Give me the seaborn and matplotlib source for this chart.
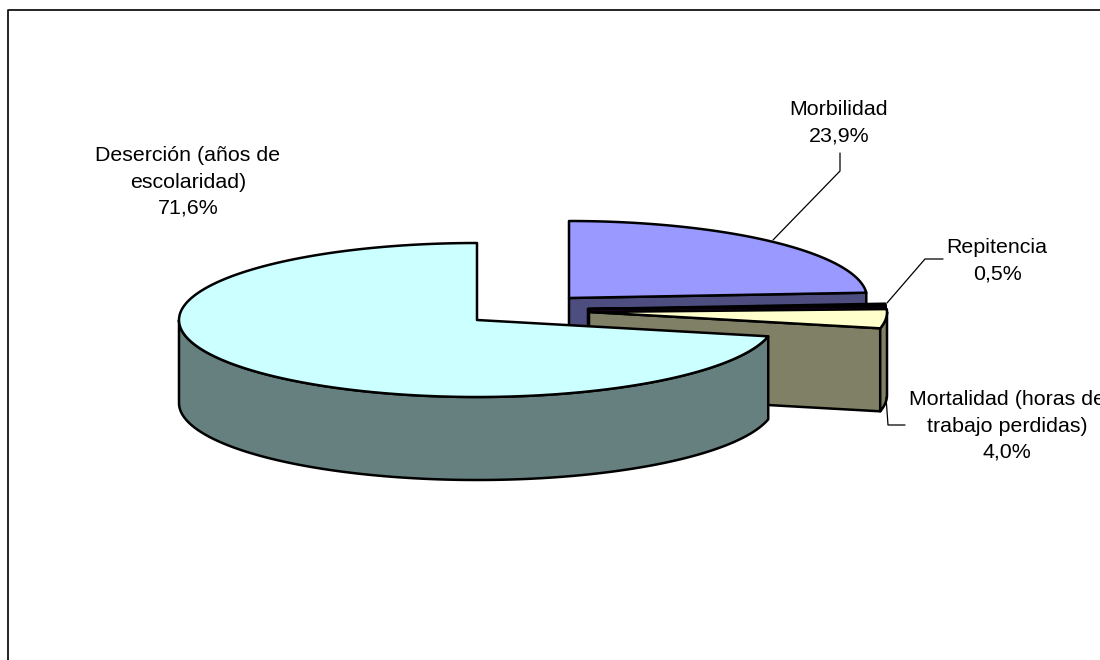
import numpy as np
import seaborn as sns
import matplotlib.pyplot as plt

# values of the chart
labels = ["Morbilidad\n23,9%", "Repitencia\n0,5%", "Mortalidad (horas de\ntrabajo perdidas)\n4,0%", "Deserción (años de\nescolaridad)\n71,6%"]
shares = [23.9, 0.5, 4.0, 71.6]
top_colors = ["#9999FF", "#660066", "#FFFFCC", "#CCFFFF"]
side_colors = ["#4D4D80", "#330033", "#808066", "#668080"]

# layout of the pie, in pixels
centers = [(569, 298), (588, 309), (589, 312), (477, 320)]
label_pos = [(839, 123), (997, 261), (1007, 426), (188, 182)]
leaders = [
    ([773, 840, 840], [240, 171, 153]),
    ([887, 925, 943], [303, 259, 259]),
    ([886, 888, 905], [397, 425, 425]),
]
rx = 298
ry = 77
depth = 83


def rim_points(cx, cy, a1, a2):
    a = np.radians(np.linspace(a1, a2, 200))
    return cx + rx * np.sin(a), cy - ry * np.cos(a)


sns.set_theme(style="white")
plt.rcParams["font.family"] = ["Liberation Sans", "DejaVu Sans"]

fig, ax = plt.subplots(figsize=(11, 6.6), dpi=100)
ax.set_position([0, 0, 1, 1])
ax.set_xlim(0, 1100)
ax.set_ylim(660, 0)
ax.axis("off")

# chart frame, runs off the picture on the right and at the bottom
ax.plot([8, 8, 1100], [660, 10, 10], color="black", lw=1.2, clip_on=False)

edges = np.cumsum([0] + shares) * 3.6
line = dict(edgecolor="black", lw=1.8, joinstyle="round")

for i in range(len(shares)):
    cx, cy = centers[i]
    a1, a2 = edges[i], edges[i + 1]

    # cut face towards the viewer
    if a2 < 180:
        ex, ey = rim_points(cx, cy, a2, a2)
        ax.fill([cx, ex[0], ex[0], cx], [cy, ey[0], ey[0] + depth, cy + depth],
                facecolor=side_colors[i], **line)

    # outer wall, only the front half shows
    w1, w2 = max(a1, 90), min(a2, 270)
    if w1 < w2:
        wx, wy = rim_points(cx, cy, w1, w2)
        ax.fill(np.r_[wx, wx[::-1]], np.r_[wy, wy[::-1] + depth],
                facecolor=side_colors[i], **line)

    # top of the slice
    tx, ty = rim_points(cx, cy, a1, a2)
    ax.fill(np.r_[cx, tx], np.r_[cy, ty], facecolor=top_colors[i], **line)

for xs, ys in leaders:
    ax.plot(xs, ys, color="black", lw=0.9)

for text, (x, y) in zip(labels, label_pos):
    ax.text(x, y, text, ha="center", va="center", fontsize=15.4, color="black",
            linespacing=1.48)

fig.savefig("out.png", dpi=100)
